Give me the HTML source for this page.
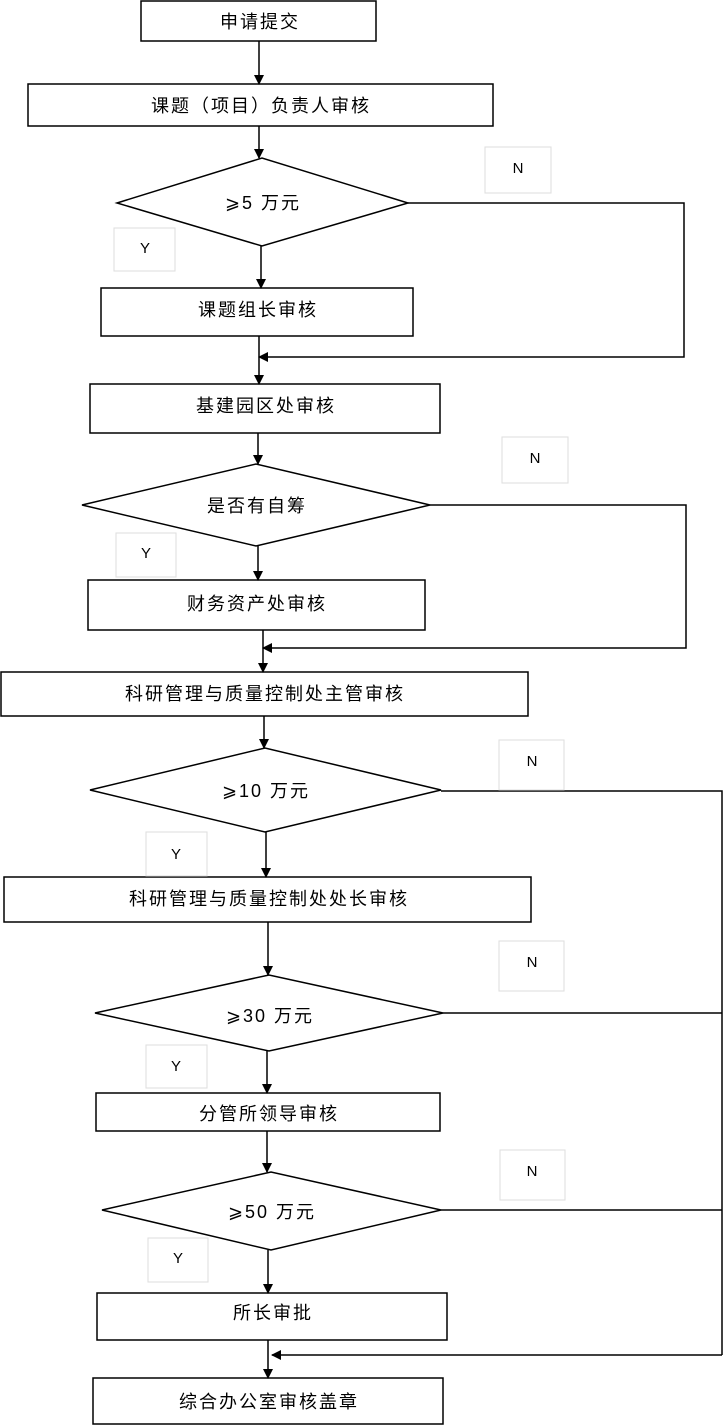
<!DOCTYPE html>
<html><head><meta charset="utf-8"><style>
html,body{margin:0;padding:0;background:#fff}
svg{display:block}
text{font-family:"Liberation Sans","Noto Sans CJK SC",sans-serif;font-size:18px;letter-spacing:2px;fill:#000}
.l{font-size:15px;letter-spacing:0}
</style></head><body>
<svg width="726" height="1427" viewBox="0 0 726 1427">
<defs><marker id="a" markerWidth="10" markerHeight="10" refX="9" refY="5" orient="auto" markerUnits="userSpaceOnUse"><path d="M0,0 L10,5 L0,10 z" fill="#000"/></marker></defs>
<g fill="none" stroke="#000" stroke-width="1.5">
<rect x="141" y="1" width="235" height="40"/>
<rect x="28" y="84" width="465" height="42"/>
<polygon points="117,203 262,158 408,203 262,246"/>
<rect x="101" y="288" width="312" height="48"/>
<rect x="90" y="384" width="350" height="49"/>
<polygon points="82,505 256,464 430,505 256,546"/>
<rect x="88" y="580" width="337" height="50"/>
<rect x="1" y="672" width="527" height="44"/>
<polygon points="90,790 265,748 441,790 265,832"/>
<rect x="4" y="877" width="527" height="45"/>
<polygon points="95,1013 269,975 443,1013 269,1051"/>
<rect x="96" y="1093" width="344" height="38"/>
<polygon points="102,1210 271,1172 441,1210 271,1250"/>
<rect x="97" y="1293" width="350" height="47"/>
<rect x="93" y="1378" width="350" height="46"/>
<g marker-end="url(#a)">
<line x1="259" y1="41" x2="259" y2="84"/>
<line x1="259" y1="126" x2="259" y2="158"/>
<line x1="261" y1="246" x2="261" y2="288"/>
<polyline points="408,203 684,203 684,357 259,357"/>
<line x1="259" y1="336" x2="259" y2="384"/>
<line x1="258" y1="433" x2="258" y2="464"/>
<line x1="258" y1="546" x2="258" y2="580"/>
<polyline points="430,505 686,505 686,648 263,648"/>
<line x1="263" y1="630" x2="263" y2="672"/>
<line x1="264" y1="716" x2="264" y2="748"/>
<line x1="266" y1="832" x2="266" y2="877"/>
<line x1="268" y1="922" x2="268" y2="975"/>
<line x1="267" y1="1051" x2="267" y2="1093"/>
<line x1="267" y1="1131" x2="267" y2="1172"/>
<line x1="268" y1="1250" x2="268" y2="1293"/>
<line x1="268" y1="1340" x2="268" y2="1378"/>
<polyline points="722,1355 272,1355"/>
</g>
<polyline points="441,791 722,791 722,1355"/>
<line x1="443" y1="1013" x2="722" y2="1013"/>
<line x1="441" y1="1210" x2="722" y2="1210"/>
</g>
<g fill="none" stroke="#ddd" stroke-width="1">
<rect x="485" y="147" width="66" height="46"/>
<rect x="114" y="228" width="61" height="43"/>
<rect x="502" y="437" width="66" height="46"/>
<rect x="116" y="533" width="60" height="44"/>
<rect x="499" y="740" width="65" height="50"/>
<rect x="146" y="832" width="61" height="44"/>
<rect x="499" y="941" width="65" height="50"/>
<rect x="146" y="1045" width="61" height="43"/>
<rect x="500" y="1150" width="65" height="50"/>
<rect x="148" y="1238" width="60" height="44"/>
</g>
<g text-anchor="middle">
<text x="260" y="28">申请提交</text>
<text x="261" y="112">课题（项目）负责人审核</text>
<text x="263" y="209">⩾5 万元</text>
<text x="258" y="316">课题组长审核</text>
<text x="266" y="412">基建园区处审核</text>
<text x="257" y="512">是否有自筹</text>
<text x="257" y="610">财务资产处审核</text>
<text x="265" y="700">科研管理与质量控制处主管审核</text>
<text x="266" y="797">⩾10 万元</text>
<text x="269" y="905">科研管理与质量控制处处长审核</text>
<text x="270" y="1022">⩾30 万元</text>
<text x="269" y="1120">分管所领导审核</text>
<text x="272" y="1218">⩾50 万元</text>
<text x="273" y="1319">所长审批</text>
<text x="269" y="1408">综合办公室审核盖章</text>
<text class="l" x="518" y="173">N</text>
<text class="l" x="145" y="253">Y</text>
<text class="l" x="535" y="463">N</text>
<text class="l" x="146" y="558">Y</text>
<text class="l" x="532" y="766">N</text>
<text class="l" x="176" y="859">Y</text>
<text class="l" x="532" y="967">N</text>
<text class="l" x="176" y="1071">Y</text>
<text class="l" x="532" y="1176">N</text>
<text class="l" x="178" y="1263">Y</text>
</g>
</svg>
</body></html>
